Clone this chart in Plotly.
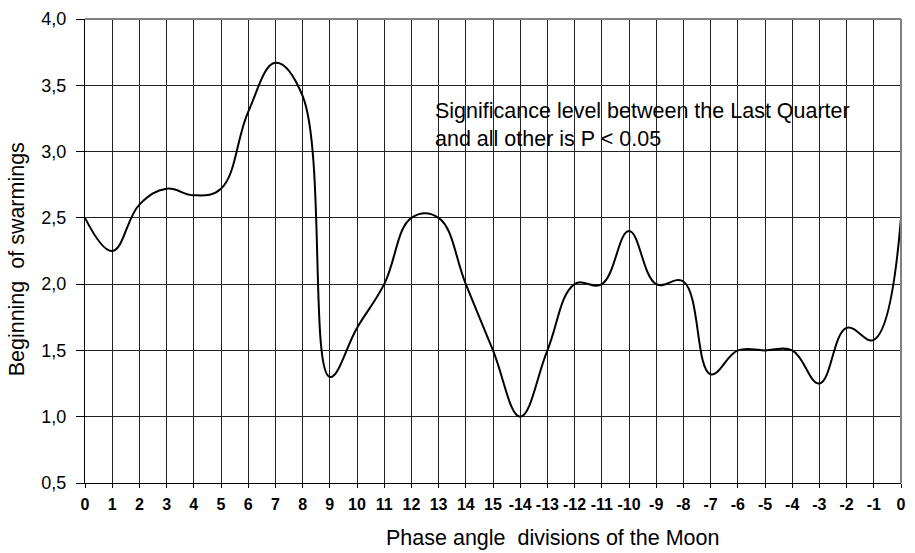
import plotly.graph_objects as go

tick_labels = ["0", "1", "2", "3", "4", "5", "6", "7", "8", "9", "10", "11", "12", "13", "14", "15",
               "-14", "-13", "-12", "-11", "-10", "-9", "-8", "-7", "-6", "-5", "-4", "-3", "-2", "-1", "0"]
values = [2.5, 2.25, 2.6, 2.72, 2.67, 2.72, 3.3, 3.67, 3.42, 1.3, 1.67, 2.0, 2.5, 2.5, 2.0, 1.5,
          1.0, 1.5, 2.0, 2.0, 2.4, 2.0, 2.02, 1.32, 1.5, 1.5, 1.5, 1.25, 1.67, 1.58, 2.5]
positions = list(range(len(tick_labels)))
y_ticks = [0.5, 1.0, 1.5, 2.0, 2.5, 3.0, 3.5, 4.0]
y_tick_text = [f"{v:.1f}".replace(".", ",") for v in y_ticks]

FONT = "Liberation Sans, Arial, sans-serif"

fig = go.Figure()
fig.add_trace(go.Scatter(x=positions, y=values, mode="lines",
                         line=dict(color="black", width=2, shape="spline", smoothing=1.15),
                         hoverinfo="skip", showlegend=False))

fig.update_layout(
    width=915, height=553,
    margin=dict(l=85, r=9, t=16, b=70),
    paper_bgcolor="white", plot_bgcolor="white",
    font=dict(family=FONT, color="black"),
    xaxis=dict(range=[0, 30], tickvals=positions, ticktext=tick_labels,
               tickfont=dict(size=16, family=FONT, weight="bold"),
               showgrid=True, gridcolor="#222222", gridwidth=1,
               showline=True, linecolor="black", linewidth=1,
               ticks="outside", ticklen=4, tickcolor="black",
               ticklabelstandoff=3,
               zeroline=False, mirror=False, fixedrange=True),
    yaxis=dict(range=[0.5, 4.0], tickvals=y_ticks, ticktext=y_tick_text,
               tickfont=dict(size=18, family=FONT),
               showgrid=True, gridcolor="#222222", gridwidth=1,
               showline=True, linecolor="black", linewidth=1,
               ticks="outside", ticklen=8, tickcolor="black",
               ticklabelstandoff=6,
               zeroline=False, fixedrange=True),
    shapes=[
        dict(type="line", xref="paper", yref="paper", x0=0, x1=1, y0=1, y1=1,
             line=dict(color="#808080", width=2)),
        dict(type="line", xref="paper", yref="paper", x0=1, x1=1, y0=0, y1=1,
             line=dict(color="#808080", width=2)),
    ],
    annotations=[
        dict(text="Significance level between the Last Quarter<br>and all other is P < 0.05",
             xref="paper", yref="paper", x=(435 - 85) / 821, y=(483 - 123) / 467,
             xanchor="left", yanchor="middle", align="left", showarrow=False,
             font=dict(size=21.5, family=FONT, color="black")),
        dict(text="Phase angle  divisions of the Moon",
             xref="paper", yref="paper", x=(555 - 85) / 821, y=-(538 - 483) / 467,
             xanchor="center", yanchor="middle", showarrow=False,
             font=dict(size=21.5, family=FONT, color="black")),
        dict(text="Beginning  of swarmings", textangle=-90,
             xref="paper", yref="paper", x=-(85 - 17) / 821, y=(483 - 257.5) / 467,
             xanchor="center", yanchor="middle", showarrow=False,
             font=dict(size=21.5, family=FONT, color="black")),
    ],
)

fig.write_html("out.html")
